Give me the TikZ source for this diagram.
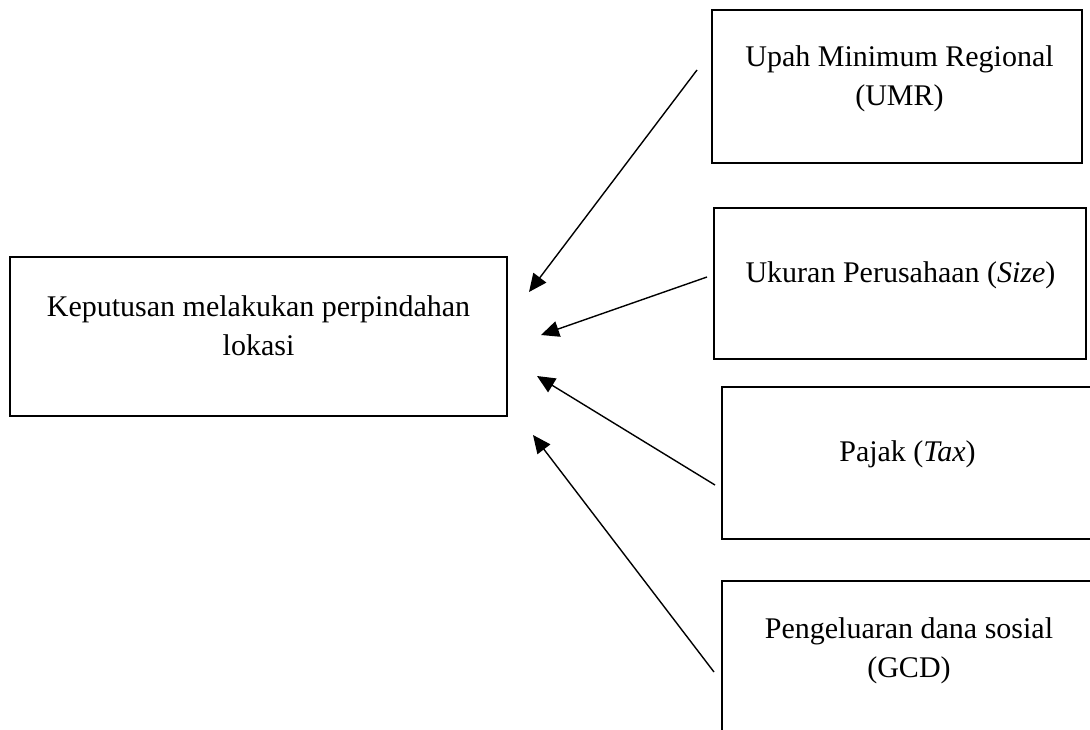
\documentclass[tikz,border=0pt]{standalone}
\usepackage{fontspec}
\setmainfont{Liberation Serif}
\usetikzlibrary{arrows.meta}
\tikzset{
  box/.style={draw=black, line width=2.6pt, rectangle, anchor=north west, inner sep=0pt, outer sep=0pt},
  txt/.style={align=center, inner sep=0pt, font=\fontsize{30}{39}\selectfont},
  link/.style={line width=1.4pt, -{Triangle[length=18pt,width=16pt]}}
}
\begin{document}
\begin{tikzpicture}[x=1pt,y=-1pt]
\useasboundingbox (0,0) rectangle (1090,729);
\clip (0,0) rectangle (1090,729);
% boxes
\node[box, minimum width=497pt, minimum height=159pt] (main) at (10,257) {};
\node[box, minimum width=370pt, minimum height=153pt] (umr) at (712,10) {};
\node[box, minimum width=372pt, minimum height=151pt] (size) at (714,208) {};
\node[box, minimum width=373pt, minimum height=152pt] (tax) at (722,387) {};
\node[box, minimum width=373pt, minimum height=180pt] (gcd) at (722,581) {};
% texts
\node[txt] (maint) at (258.5,328) {\strut Keputusan melakukan perpindahan\\\strut lokasi};
\node[txt] (umrt) at (899.5,78) {\strut Upah Minimum Regional\\\strut (UMR)};
\node[txt] (sizet) at (900.5,275) {\strut Ukuran Perusahaan (\textit{Size})};
\node[txt] (taxt) at (907.5,454) {\strut Pajak (\textit{Tax})};
\node[txt] (gcdt) at (909,650) {\strut Pengeluaran dana sosial\\\strut (GCD)};
% arrow ends
\coordinate (s1) at (697,70);  \coordinate (e1) at (529,292);
\coordinate (s2) at (707,277); \coordinate (e2) at (541,335);
\coordinate (s3) at (715,485); \coordinate (e3) at (537,376);
\coordinate (s4) at (714,672); \coordinate (e4) at (533,435);
\draw[link] (s1) -- (e1);
\draw[link] (s2) -- (e2);
\draw[link] (s3) -- (e3);
\draw[link] (s4) -- (e4);
\end{tikzpicture}
\end{document}
